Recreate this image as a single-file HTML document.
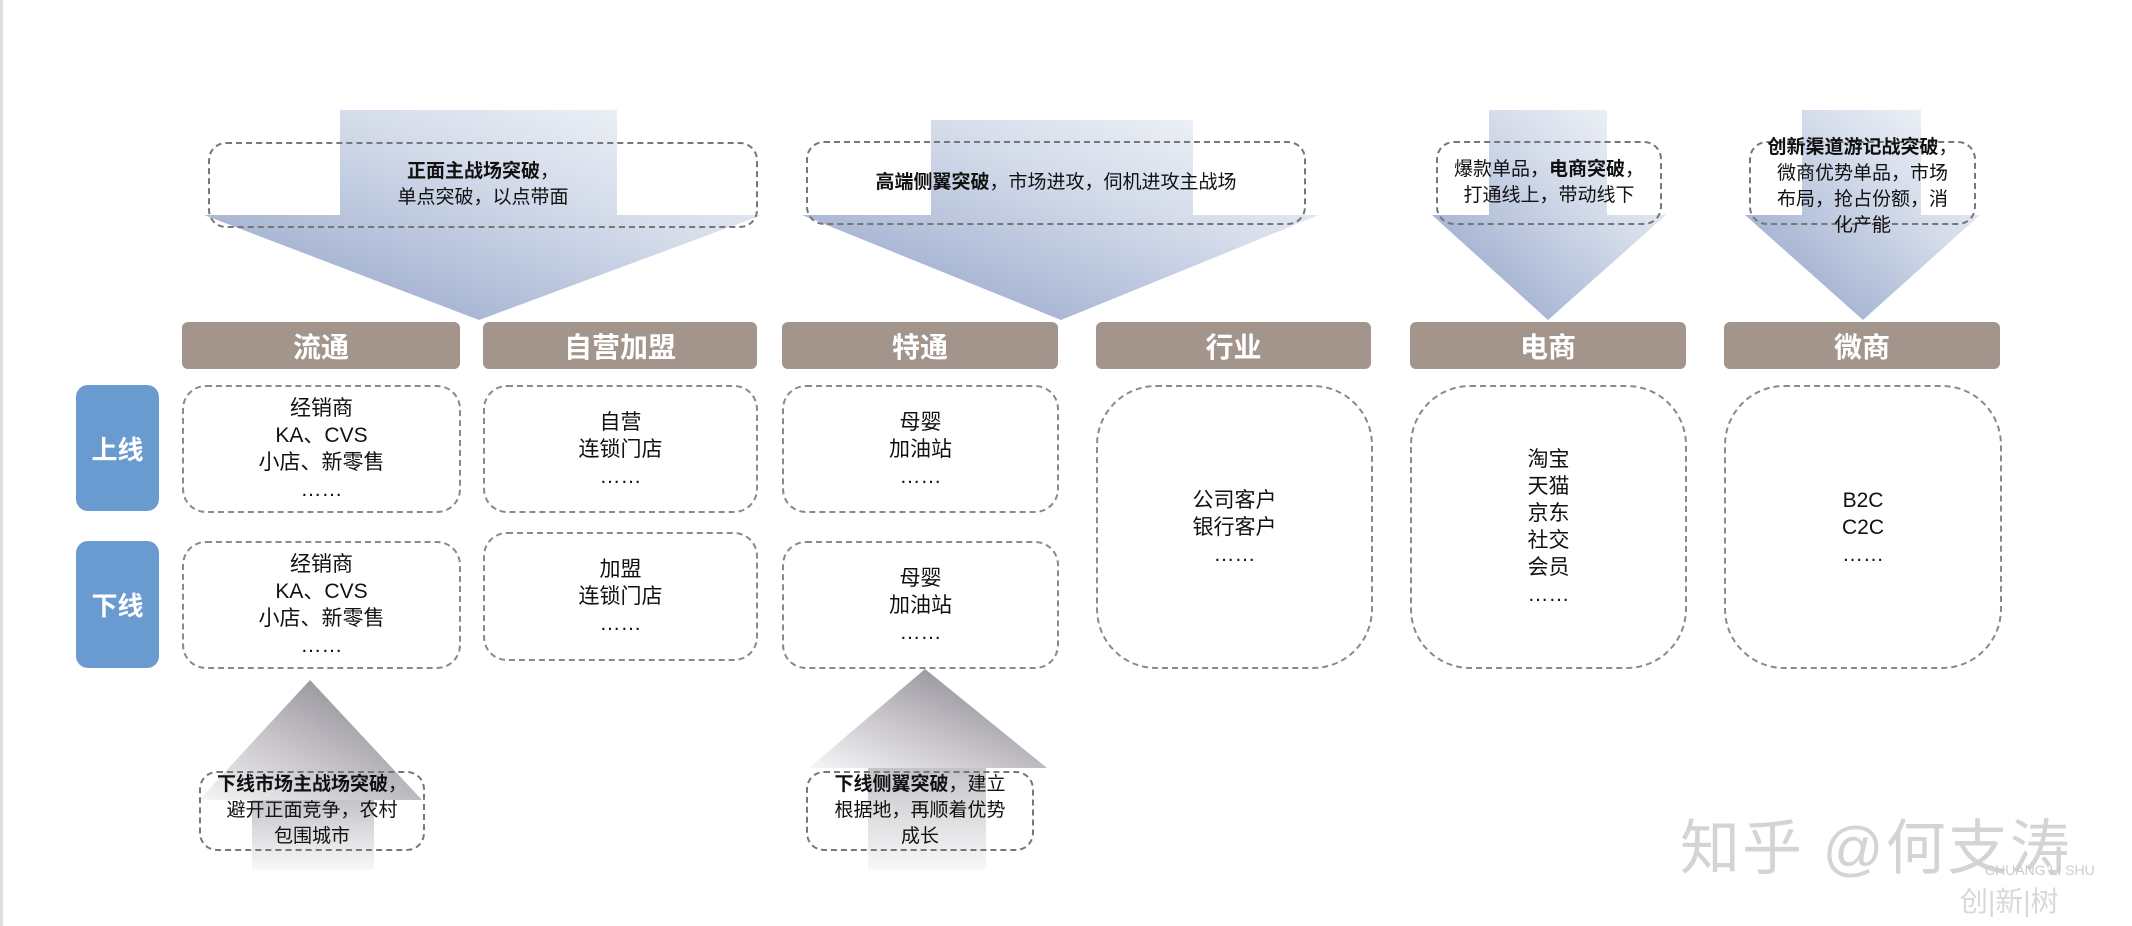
<!DOCTYPE html>
<html><head><meta charset="utf-8"><style>
html,body{margin:0;padding:0;background:#fff;}
body{width:2132px;height:926px;position:relative;overflow:hidden;font-family:"Liberation Sans","Noto Sans CJK SC",sans-serif;}
.abs{position:absolute;}
.hdr{position:absolute;top:322px;height:47px;background:#a3958c;border-radius:6px;color:#fff;font-weight:bold;font-size:28px;display:flex;align-items:center;justify-content:center;}
.side{position:absolute;left:76px;width:83px;background:#6a9bd0;border-radius:12px;color:#fff;font-weight:bold;font-size:26px;display:flex;align-items:center;justify-content:center;}
.box{position:absolute;border:2px dashed #8a8a8a;border-radius:24px;display:flex;align-items:center;justify-content:center;text-align:center;font-size:21px;line-height:27px;color:#111;box-sizing:border-box;}
.tall{border-radius:60px;}
.note{position:absolute;border:2px dashed #777;border-radius:18px;box-sizing:border-box;display:flex;align-items:center;justify-content:center;text-align:center;font-size:19px;line-height:26px;color:#111;}
</style></head><body>
<div class="abs" style="left:0;top:0;width:3px;height:926px;background:#ddd"></div>
<svg class="abs" style="left:0;top:0" width="2132" height="926">
<defs>
<linearGradient id="bg" x1="0" y1="1" x2="1" y2="0"><stop offset="0" stop-color="#8d9fc6"/><stop offset="0.6" stop-color="#d3dbea"/><stop offset="1" stop-color="#f6f8fb"/></linearGradient>
<linearGradient id="gg" x1="1" y1="0" x2="0" y2="1"><stop offset="0" stop-color="#7f7a84"/><stop offset="0.6" stop-color="#c9c6cc"/><stop offset="1" stop-color="#f6f6f7"/></linearGradient>
<linearGradient id="gr" x1="0" y1="0" x2="0" y2="1"><stop offset="0" stop-color="#c5c3c8"/><stop offset="1" stop-color="#f8f8f9"/></linearGradient>
</defs>
<polygon fill="url(#bg)" points="340,110 617,110 617,215 762,215 479,320 204,215 340,215"/>
<polygon fill="url(#bg)" points="931,120 1193,120 1193,215 1319,215 1061,320 802,215 931,215"/>
<polygon fill="url(#bg)" points="1489,110 1607,110 1607,215 1666,215 1548,320 1432,215 1489,215"/>
<polygon fill="url(#bg)" points="1802,110 1921,110 1921,215 1980,215 1863,320 1745,215 1802,215"/>
<polygon fill="url(#gg)" points="310,680 422,800 199,800"/>
<rect x="252" y="800" width="122" height="70" fill="url(#gr)"/>
<polygon fill="url(#gg)" points="925,669 1047,768 809,768"/>
<rect x="868" y="768" width="118" height="102" fill="url(#gr)"/>
</svg>

<div class="note" style="left:208px;top:142px;width:550px;height:86px"><div><b>正面主战场突破</b>，<br>单点突破，以点带面</div></div>
<div class="note" style="left:806px;top:141px;width:500px;height:84px"><div><b>高端侧翼突破</b>，市场进攻，伺机进攻主战场</div></div>
<div class="note" style="left:1436px;top:141px;width:226px;height:84px"><div>爆款单品，<b>电商突破</b>，<br>打通线上，带动线下</div></div>
<div class="note" style="left:1749px;top:141px;width:227px;height:84px;align-items:flex-start"><div style="margin-top:-8px">  <b>创新渠道游记战突破</b>，<br>微商优势单品，市场<br>布局，抢占份额，消<br>化产能</div></div>

<div class="hdr" style="left:182px;width:278px">流通</div>
<div class="hdr" style="left:483px;width:274px">自营加盟</div>
<div class="hdr" style="left:782px;width:276px">特通</div>
<div class="hdr" style="left:1096px;width:275px">行业</div>
<div class="hdr" style="left:1410px;width:276px">电商</div>
<div class="hdr" style="left:1724px;width:276px">微商</div>

<div class="side" style="top:385px;height:126px">上线</div>
<div class="side" style="top:541px;height:127px">下线</div>

<div class="box" style="left:182px;top:385px;width:279px;height:128px"><div>经销商<br>KA、CVS<br>小店、新零售<br>……</div></div>
<div class="box" style="left:483px;top:385px;width:275px;height:128px"><div>自营<br>连锁门店<br>……</div></div>
<div class="box" style="left:782px;top:385px;width:277px;height:128px"><div>母婴<br>加油站<br>……</div></div>
<div class="box" style="left:182px;top:541px;width:279px;height:128px"><div>经销商<br>KA、CVS<br>小店、新零售<br>……</div></div>
<div class="box" style="left:483px;top:532px;width:275px;height:129px"><div>加盟<br>连锁门店<br>……</div></div>
<div class="box" style="left:782px;top:541px;width:277px;height:128px"><div>母婴<br>加油站<br>……</div></div>
<div class="box tall" style="left:1096px;top:385px;width:277px;height:284px"><div>公司客户<br>银行客户<br>……</div></div>
<div class="box tall" style="left:1410px;top:385px;width:277px;height:284px"><div>淘宝<br>天猫<br>京东<br>社交<br>会员<br>……</div></div>
<div class="box tall" style="left:1724px;top:385px;width:278px;height:284px"><div>B2C<br>C2C<br>……</div></div>

<div class="note" style="left:199px;top:771px;width:226px;height:80px"><div><b>下线市场主战场突破</b>，<br>避开正面竞争，农村<br>包围城市</div></div>
<div class="note" style="left:806px;top:771px;width:228px;height:80px"><div><b>下线侧翼突破</b>，建立<br>根据地，再顺着优势<br>成长</div></div>

<div class="abs" style="left:1680px;top:800px;font-size:60px;color:#d4d4d4;white-space:nowrap;letter-spacing:2px">知乎 @何支涛</div>
<div class="abs" style="left:1985px;top:862px;font-size:14px;color:#ccc">CHUANG LI SHU</div>
<div class="abs" style="left:1960px;top:880px;font-size:28px;color:#d8d8d8">创|新|树</div>
</body></html>
